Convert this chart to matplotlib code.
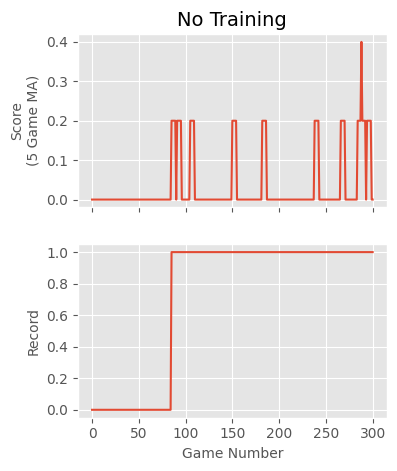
import matplotlib
matplotlib.use('Agg')
import matplotlib.pyplot as plt
import numpy as np
import pandas as pd

plt.style.use('ggplot')

# games played (0..300) and the games in which a point was scored
games = np.arange(0, 301)
scoring_games = [85, 91, 105, 150, 182, 238, 266, 284, 288, 294]
score_per_hit = 1

scores = np.zeros(len(games))
for g in scoring_games:
    scores[g] = score_per_hit

score_ma = pd.Series(scores).rolling(5, min_periods=1).mean()
record = np.maximum.accumulate(scores)

fig, (ax1, ax2) = plt.subplots(2, 1, figsize=(3.97, 4.71), dpi=100, sharex=True)
fig.subplots_adjust(left=0.1965, right=0.974, top=0.9278, bottom=0.1132, hspace=0.212)

ax1.plot(games, score_ma)
ax1.set_title('No Training', fontsize=14)
ax1.set_ylabel('Score\n(5 Game MA)', fontsize=10)

ax2.plot(games, record)
ax2.set_ylabel('Record', fontsize=10)
ax2.set_xlabel('Game Number', fontsize=10)

for ax in (ax1, ax2):
    ax.tick_params(labelsize=10)

plt.savefig('out.png', dpi=100)
